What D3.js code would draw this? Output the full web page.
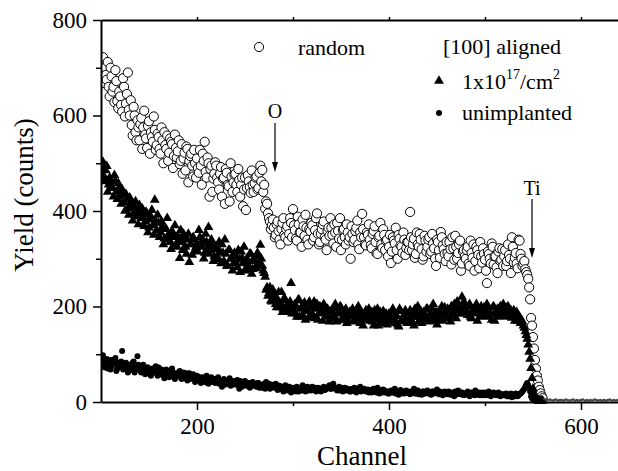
<!DOCTYPE html>
<html>
<head>
<meta charset="utf-8">
<script src="https://cdn.jsdelivr.net/npm/d3@7"></script>
<style>
  body { margin: 0; background: #fff; }
  text { font-family: "Liberation Serif", "Times New Roman", serif; fill: #000; }
</style>
</head>
<body>
<svg width="618" height="471"></svg>
<script>
// even channels 100,102..560 and odd channels 101,103..559
const evenStart = 100;
const oddStart = 101;
const channelStep = 2;

const randomYield = [
  690, 722, 700, 675, 660, 700, 650, 628, 672, 615,
  640, 608, 660, 625, 690, 600, 580, 618, 565, 590,
  548, 595, 575, 560, 532, 588, 565, 545, 570, 538,
  555, 520, 548, 565, 530, 505, 552, 540, 515, 532,
  525, 498, 540, 510, 485, 530, 505, 520, 472, 500,
  510, 480, 495, 520, 545, 470, 500, 488, 440, 478,
  495, 460, 478, 430, 470, 488, 455, 420, 472, 460,
  478, 440, 465, 455, 410, 470, 448, 462, 438, 455,
  458, 472, 448, 495, 486, 455, 420, 395, 378, 370,
  365, 350, 378, 340, 362, 385, 345, 368, 352, 375,
  404, 360, 338, 372, 355, 382, 348, 365, 330, 358,
  370, 345, 385, 352, 335, 362, 378, 340, 358, 348,
  365, 332, 355, 375, 342, 318, 360, 345, 372, 338,
  300, 352, 340, 365, 330, 355, 394, 345, 328, 350,
  340, 322, 358, 335, 310, 348, 330, 362, 318, 340,
  325, 291, 345, 332, 318, 350, 328, 312, 340, 322,
  335, 398, 318, 342, 310, 330, 352, 320, 305, 338,
  325, 345, 315, 332, 300, 340, 318, 356, 328, 310,
  335, 305, 320, 345, 298, 325, 312, 338, 290, 318,
  300, 325, 285, 312, 330, 295, 318, 280, 305, 322,
  298, 249, 310, 290, 325, 305, 282, 315, 295, 320,
  305, 285, 330, 300, 345, 292, 312, 280, 338, 300,
  290, 278, 266, 240, 176, 136, 88, 55, 32, 18,
  8
];
const randomYieldOdd = [
  710, 668, 685, 712, 640, 682, 660, 695, 630, 650,
  622, 678, 598, 645, 612, 632, 558, 600, 548, 575,
  582, 530, 610, 552, 578, 520, 555, 598, 528, 562,
  530, 575, 500, 538, 558, 522, 545, 490, 560, 512,
  548, 505, 478, 522, 535, 460, 515, 495, 528, 470,
  490, 528, 455, 505, 482, 512, 430, 495, 468, 502,
  470, 445, 492, 468, 415, 480, 452, 500, 440, 476,
  455, 488, 430, 470, 445, 402, 475, 450, 485, 440,
  470, 445, 480, 462, 440, 405, 415, 385, 362, 382,
  345, 372, 358, 330, 375, 350, 362, 338, 385, 345,
  370, 342, 388, 355, 325, 368, 392, 340, 362, 375,
  338, 360, 395, 330, 352, 372, 345, 318, 365, 385,
  350, 372, 325, 358, 385, 340, 362, 330, 355, 345,
  368, 335, 358, 380, 320, 345, 362, 330, 355, 372,
  328, 352, 368, 312, 345, 375, 322, 350, 338, 305,
  350, 315, 338, 365, 300, 342, 325, 355, 308, 335,
  318, 345, 330, 302, 355, 325, 340, 298, 348, 315,
  340, 310, 352, 322, 285, 335, 302, 345, 320, 295,
  312, 335, 288, 322, 348, 300, 330, 275, 315, 305,
  318, 290, 338, 302, 275, 325, 308, 335, 292, 310,
  275, 315, 300, 332, 288, 305, 270, 322, 298, 285,
  318, 295, 308, 270, 325, 302, 290, 340, 310, 285,
  295, 272, 258, 215, 160, 112, 70, 45, 25, 12
];

const alignedYield = [
  480, 503, 470, 494, 455, 465, 448, 475, 440, 458,
  430, 445, 418, 435, 405, 428, 410, 395, 420, 400,
  412, 385, 400, 378, 392, 365, 388, 370, 423, 360,
  375, 355, 368, 342, 362, 350, 335, 358, 345, 330,
  348, 301, 335, 352, 325, 340, 293, 330, 345, 318,
  332, 360, 325, 340, 312, 335, 366, 318, 330, 305,
  320, 298, 315, 330, 295, 310, 285, 318, 300, 290,
  305, 282, 298, 315, 290, 275, 300, 285, 310, 278,
  295, 280, 305, 329, 285, 270, 235, 222, 240, 210,
  225, 205, 215, 198, 230, 195, 212, 188, 205, 249,
  190, 205, 178, 215, 195, 182, 208, 192, 176, 200,
  185, 210, 195, 172, 200, 188, 205, 178, 195, 168,
  192, 180, 205, 170, 188, 198, 175, 190, 165, 185,
  178, 195, 170, 188, 200, 165, 185, 175, 192, 180,
  170, 188, 160, 182, 195, 175, 168, 190, 178, 162,
  185, 172, 195, 165, 180, 158, 190, 175, 168, 185,
  170, 192, 178, 160, 185, 200, 172, 165, 188, 178,
  195, 168, 180, 205, 175, 162, 190, 182, 170, 198,
  180, 192, 168, 188, 205, 175, 195, 185, 220, 210,
  195, 182, 205, 175, 190, 198, 170, 188, 200, 180,
  192, 205, 178, 185, 198, 170, 190, 182, 200, 188,
  195, 180, 200, 188, 176, 192, 183, 170, 178, 172,
  160, 148, 132, 105, 71, 28, 10, 5, 4, 3,
  3
];
const alignedYieldOdd = [
  492, 462, 485, 440, 470, 452, 430, 462, 425, 448,
  415, 438, 400, 425, 392, 418, 380, 408, 388, 372,
  395, 405, 368, 398, 355, 382, 402, 350, 378, 392,
  345, 378, 330, 362, 385, 340, 320, 352, 370, 325,
  338, 360, 318, 345, 310, 352, 330, 308, 340, 325,
  315, 345, 330, 300, 352, 322, 310, 340, 295, 325,
  305, 335, 290, 312, 340, 285, 318, 300, 275, 312,
  290, 318, 272, 302, 325, 280, 295, 310, 268, 300,
  282, 312, 290, 300, 275, 262, 240, 228, 212, 235,
  215, 198, 230, 205, 188, 218, 200, 192, 210, 185,
  200, 185, 212, 178, 198, 205, 172, 190, 210, 182,
  198, 175, 205, 185, 192, 170, 200, 182, 190, 175,
  178, 195, 168, 185, 200, 172, 182, 195, 170, 188,
  190, 168, 182, 195, 175, 188, 160, 180, 172, 195,
  182, 168, 192, 172, 160, 188, 178, 165, 185, 175,
  168, 190, 175, 182, 162, 195, 170, 180, 192, 165,
  185, 172, 165, 195, 178, 168, 190, 182, 172, 195,
  178, 185, 195, 170, 188, 180, 172, 200, 185, 178,
  195, 175, 200, 182, 190, 210, 185, 198, 205, 192,
  188, 200, 178, 192, 185, 205, 195, 178, 190, 198,
  182, 195, 188, 172, 200, 185, 195, 178, 192, 205,
  185, 198, 178, 192, 185, 170, 188, 175, 165, 168,
  155, 140, 120, 90, 50, 18, 7, 4, 3, 3
];

const unimplantedYield = [
  85, 98, 72, 90, 78, 68, 88, 80, 65, 82,
  75, 107, 70, 82, 62, 78, 68, 85, 72, 96,
  70, 62, 78, 58, 72, 65, 55, 70, 68, 60,
  72, 58, 65, 50, 68, 62, 55, 70, 52, 60,
  58, 65, 48, 62, 55, 45, 60, 52, 58, 42,
  55, 48, 40, 52, 45, 55, 38, 50, 42, 48,
  45, 52, 40, 32, 48, 42, 38, 50, 35, 44,
  40, 46, 28, 42, 38, 44, 34, 40, 36, 42,
  38, 32, 40, 35, 30, 38, 42, 34, 28, 36,
  32, 38, 25, 34, 30, 22, 35, 28, 32, 20,
  30, 25, 32, 22, 28, 35, 26, 30, 24, 28,
  32, 26, 22, 30, 28, 24, 32, 26, 30, 35,
  28, 38, 30, 24, 32, 26, 22, 30, 28, 25,
  22, 28, 30, 20, 25, 32, 24, 28, 22, 26,
  25, 20, 28, 22, 30, 18, 24, 26, 20, 22,
  18, 24, 20, 28, 22, 15, 25, 20, 18, 24,
  20, 16, 22, 28, 18, 24, 20, 15, 22, 18,
  24, 18, 15, 22, 20, 26, 16, 20, 14, 22,
  18, 22, 15, 20, 12, 18, 24, 16, 20, 14,
  18, 22, 12, 20, 16, 24, 15, 20, 18, 14,
  20, 15, 22, 12, 18, 16, 14, 20, 12, 16,
  14, 18, 12, 16, 10, 15, 18, 12, 16, 20,
  25, 32, 40, 30, 12, 5, 3, 2, 2, 2,
  2
];
const unimplantedYieldOdd = [
  92, 78, 85, 70, 88, 75, 82, 92, 70, 78,
  85, 68, 80, 72, 65, 75, 82, 62, 70, 78,
  65, 75, 68, 60, 72, 58, 66, 62, 75, 55,
  62, 68, 55, 60, 65, 52, 58, 62, 48, 55,
  62, 52, 58, 50, 60, 55, 48, 55, 50, 52,
  48, 52, 45, 42, 50, 40, 46, 52, 44, 40,
  48, 38, 44, 42, 36, 45, 40, 34, 42, 38,
  36, 40, 44, 32, 38, 35, 40, 30, 38, 34,
  35, 40, 30, 36, 33, 28, 35, 38, 30, 33,
  30, 35, 28, 32, 26, 30, 24, 32, 28, 25,
  28, 22, 30, 26, 24, 28, 22, 32, 26, 24,
  28, 30, 24, 26, 22, 30, 25, 28, 32, 28,
  34, 30, 26, 28, 24, 30, 27, 24, 28, 22,
  26, 24, 22, 28, 26, 22, 28, 25, 24, 20,
  22, 26, 24, 20, 25, 22, 20, 24, 22, 18,
  22, 20, 24, 18, 22, 20, 18, 22, 20, 22,
  18, 22, 20, 18, 24, 16, 20, 22, 18, 20,
  20, 16, 22, 18, 20, 18, 22, 16, 20, 18,
  16, 20, 18, 14, 22, 16, 18, 20, 15, 18,
  16, 14, 18, 20, 14, 18, 16, 14, 20, 16,
  14, 18, 16, 14, 20, 15, 18, 14, 16, 15,
  16, 12, 15, 18, 14, 12, 16, 14, 18, 22,
  28, 36, 35, 22, 8, 4, 2, 2, 2, 2
];

// background counts past the Ti edge (channels 562..640)
const tailStart = 562;
const tailYield = [
  6, 5, 4, 5, 3, 4, 5, 3, 4, 4, 3, 5, 4, 3, 4, 5, 3, 4, 3, 4,
  5, 3, 4, 3, 4, 3, 5, 4, 3, 4, 3, 4, 3, 4, 5, 3, 4, 3, 4, 3
];

const xTicks = [200, 400, 600];
const xMinorTicks = [300, 500];
const yTicks = [0, 200, 400, 600, 800];
const yMinorTicks = [100, 300, 500, 700];

const svg = d3.select("svg");
const font = "Liberation Serif, Times New Roman, serif";

const x = d3.scaleLinear().domain([100, 640]).range([101, 619.4]);
const y = d3.scaleLinear().domain([0, 800]).range([402, 20]);

// merge even and odd channel readings into one point list
function points(even, odd) {
  const pts = [];
  even.forEach((v, i) => pts.push({ ch: evenStart + i * channelStep, v: v }));
  odd.forEach((v, i) => pts.push({ ch: oddStart + i * channelStep, v: v }));
  return pts.sort((a, b) => a.ch - b.ch);
}

svg.append("clipPath").attr("id", "plot")
  .append("rect")
  .attr("x", x(100)).attr("y", 0)
  .attr("width", x(640) - x(100)).attr("height", 471);

const plot = svg.append("g").attr("clip-path", "url(#plot)");

// random: open circles
plot.append("g")
  .selectAll("circle")
  .data(points(randomYield, randomYieldOdd))
  .enter()
  .append("circle")
  .attr("cx", d => x(d.ch))
  .attr("cy", d => y(d.v))
  .attr("r", 4.6)
  .attr("fill", "#fff")
  .attr("stroke", "#000")
  .attr("stroke-width", 1);

// aligned 1e17: filled triangles
const tri = d3.symbol(d3.symbolTriangle).size(42);
plot.append("g")
  .selectAll("path")
  .data(points(alignedYield, alignedYieldOdd))
  .enter()
  .append("path")
  .attr("d", tri)
  .attr("transform", d => `translate(${x(d.ch)},${y(d.v)})`)
  .attr("fill", "#000");

// unimplanted: filled dots
plot.append("g")
  .selectAll("circle")
  .data(points(unimplantedYield, unimplantedYieldOdd))
  .enter()
  .append("circle")
  .attr("cx", d => x(d.ch))
  .attr("cy", d => y(d.v))
  .attr("r", 3)
  .attr("fill", "#000");

plot.append("g")
  .selectAll("circle")
  .data(tailYield)
  .enter()
  .append("circle")
  .attr("cx", (d, i) => x(tailStart + i * channelStep))
  .attr("cy", d => y(d))
  .attr("r", 1.3)
  .attr("fill", "#444");

// axes
function styleAxis(g, size) {
  g.attr("font-family", font).attr("font-size", size);
  g.select(".domain").attr("stroke-width", 2);
  g.selectAll(".tick line").attr("stroke-width", 1.5);
  g.selectAll(".tick text").attr("fill", "#000");
}

svg.append("g")
  .attr("transform", "translate(0,402)")
  .call(d3.axisBottom(x).tickValues(xTicks).tickSize(8).tickSizeOuter(0).tickPadding(8))
  .call(g => styleAxis(g, 23));

svg.append("g")
  .attr("transform", "translate(0,402)")
  .call(d3.axisBottom(x).tickValues(xMinorTicks).tickSize(4).tickSizeOuter(0).tickFormat(""))
  .call(g => { g.select(".domain").remove(); g.selectAll("line").attr("stroke-width", 1.5); });

svg.append("g")
  .attr("transform", "translate(0,20)")
  .call(d3.axisTop(x).tickValues(xTicks.concat(xMinorTicks)).tickSize(3).tickSizeOuter(0).tickFormat(""))
  .call(g => styleAxis(g, 23));

svg.append("g")
  .attr("transform", "translate(101,0)")
  .call(d3.axisLeft(y).tickValues(yTicks).tickSize(8).tickSizeOuter(0).tickPadding(6))
  .call(g => styleAxis(g, 23));

svg.append("g")
  .attr("transform", "translate(101,0)")
  .call(d3.axisLeft(y).tickValues(yMinorTicks).tickSize(5).tickSizeOuter(0).tickFormat(""))
  .call(g => { g.select(".domain").remove(); g.selectAll("line").attr("stroke-width", 1.5); });

// axis titles
svg.append("text")
  .attr("x", 362).attr("y", 465)
  .attr("text-anchor", "middle")
  .attr("font-size", 27)
  .text("Channel");

svg.append("text")
  .attr("transform", "translate(33,195) rotate(-90)")
  .attr("text-anchor", "middle")
  .attr("font-size", 27)
  .text("Yield (counts)");

// legend
const legend = svg.append("g").attr("font-size", 22);
legend.append("circle")
  .attr("cx", 259).attr("cy", 47).attr("r", 4.6)
  .attr("fill", "#fff").attr("stroke", "#000");
legend.append("text").attr("x", 298).attr("y", 55).text("random");
legend.append("text").attr("x", 443).attr("y", 54).text("[100] aligned");
legend.append("path")
  .attr("d", tri)
  .attr("transform", "translate(439,81)")
  .attr("fill", "#000");
const doseLabel = legend.append("text").attr("x", 462).attr("y", 89);
doseLabel.append("tspan").text("1x10");
doseLabel.append("tspan").attr("font-size", 14).attr("dy", -10).text("17");
doseLabel.append("tspan").attr("dy", 10).text("/cm");
doseLabel.append("tspan").attr("font-size", 14).attr("dy", -10).text("2");
legend.append("circle")
  .attr("cx", 439).attr("cy", 113).attr("r", 3)
  .attr("fill", "#000");
legend.append("text").attr("x", 462).attr("y", 120).text("unimplanted");

// edge markers
function edgeArrow(label, xc, textY, y0, y1) {
  svg.append("text")
    .attr("x", xc).attr("y", textY)
    .attr("text-anchor", "middle")
    .attr("font-size", 20)
    .text(label);
  svg.append("line")
    .attr("x1", xc).attr("x2", xc)
    .attr("y1", y0).attr("y2", y1 - 8)
    .attr("stroke", "#000").attr("stroke-width", 1.2);
  svg.append("path")
    .attr("d", `M${xc - 3},${y1 - 10}L${xc + 3},${y1 - 10}L${xc},${y1}Z`)
    .attr("fill", "#000");
}
edgeArrow("O", 275, 118, 123, 172);
edgeArrow("Ti", 532, 195, 199, 258);
</script>
</body>
</html>
